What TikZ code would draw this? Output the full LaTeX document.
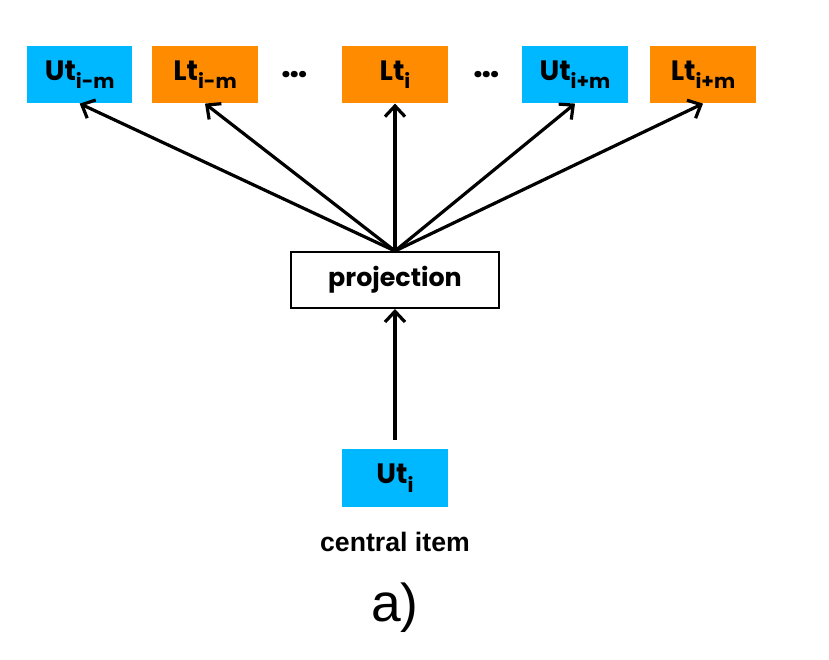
\documentclass[tikz,border=0pt]{standalone}
\usepackage{fontspec}
\setmainfont{Liberation Sans}
\newfontfamily\gothic{Poppins}
\usetikzlibrary{arrows.meta}
\definecolor{utblue}{RGB}{0,184,255}
\definecolor{ltorange}{RGB}{255,140,0}
\newcommand{\itemsub}[1]{\raisebox{-0.55ex}{\fontsize{15}{15}\selectfont #1}}
\begin{document}
\begin{tikzpicture}[x=0.75pt, y=-0.75pt, auto,
        item/.style={rectangle, minimum width=79pt, minimum height=43pt, inner sep=0pt, font=\gothic\bfseries\fontsize{21}{21}\selectfont},
        ut/.style={item, fill=utblue},
        lt/.style={item, fill=ltorange},
        proj/.style={rectangle, draw, line width=1.5pt, minimum width=156pt, minimum height=42pt, font=\gothic\bfseries\fontsize{19}{19}\selectfont},
        dots/.style={font=\gothic\bfseries\fontsize{26}{26}\selectfont},
        line/.style={draw, -{Straight Barb[length=8pt, width=15pt, line width=2.4pt]}, line width=2.4pt}]

        \useasboundingbox (0,0) rectangle (829,660);

        \node [proj] (proj) at (395,280) {projection};
        \node [lt, above of=proj, node distance=154pt] (lti) {Lt\itemsub{i}};
        \node [lt, left of=lti, node distance=142.5pt] (ltim) {Lt\itemsub{i-m}};
        \node [ut, left of=ltim, node distance=94pt] (utim) {Ut\itemsub{i-m}};
        \node [ut, right of=lti, node distance=135pt] (utip) {Ut\itemsub{i+m}};
        \node [lt, right of=utip, node distance=96pt] (ltip) {Lt\itemsub{i+m}};
        \node [dots, left of=lti, node distance=75pt] (dotsl) {\dots};
        \node [dots, right of=lti, node distance=69pt] (dotsr) {\dots};

        \node [ut, below of=proj, node distance=148.5pt] (uti) {Ut\itemsub{i}};
        \node [below of=uti, node distance=48pt, font=\bfseries\fontsize{20}{20}\selectfont] (central) {central item};
        \node [below of=uti, node distance=97pt, font=\fontsize{40}{40}\selectfont] (label) {a)};

        % projection to context items
        \path [line] (proj.north) -- (utim.south);
        \path [line] (proj.north) -- (ltim.south);
        \path [line] (proj.north) -- (lti.south);
        \path [line] (proj.north) -- (utip.south);
        \path [line] (proj.north) -- (ltip.south);

        % central item to projection
        \path [line] ([yshift=7pt]uti.north) -- (proj.south);
    \end{tikzpicture}
\end{document}
